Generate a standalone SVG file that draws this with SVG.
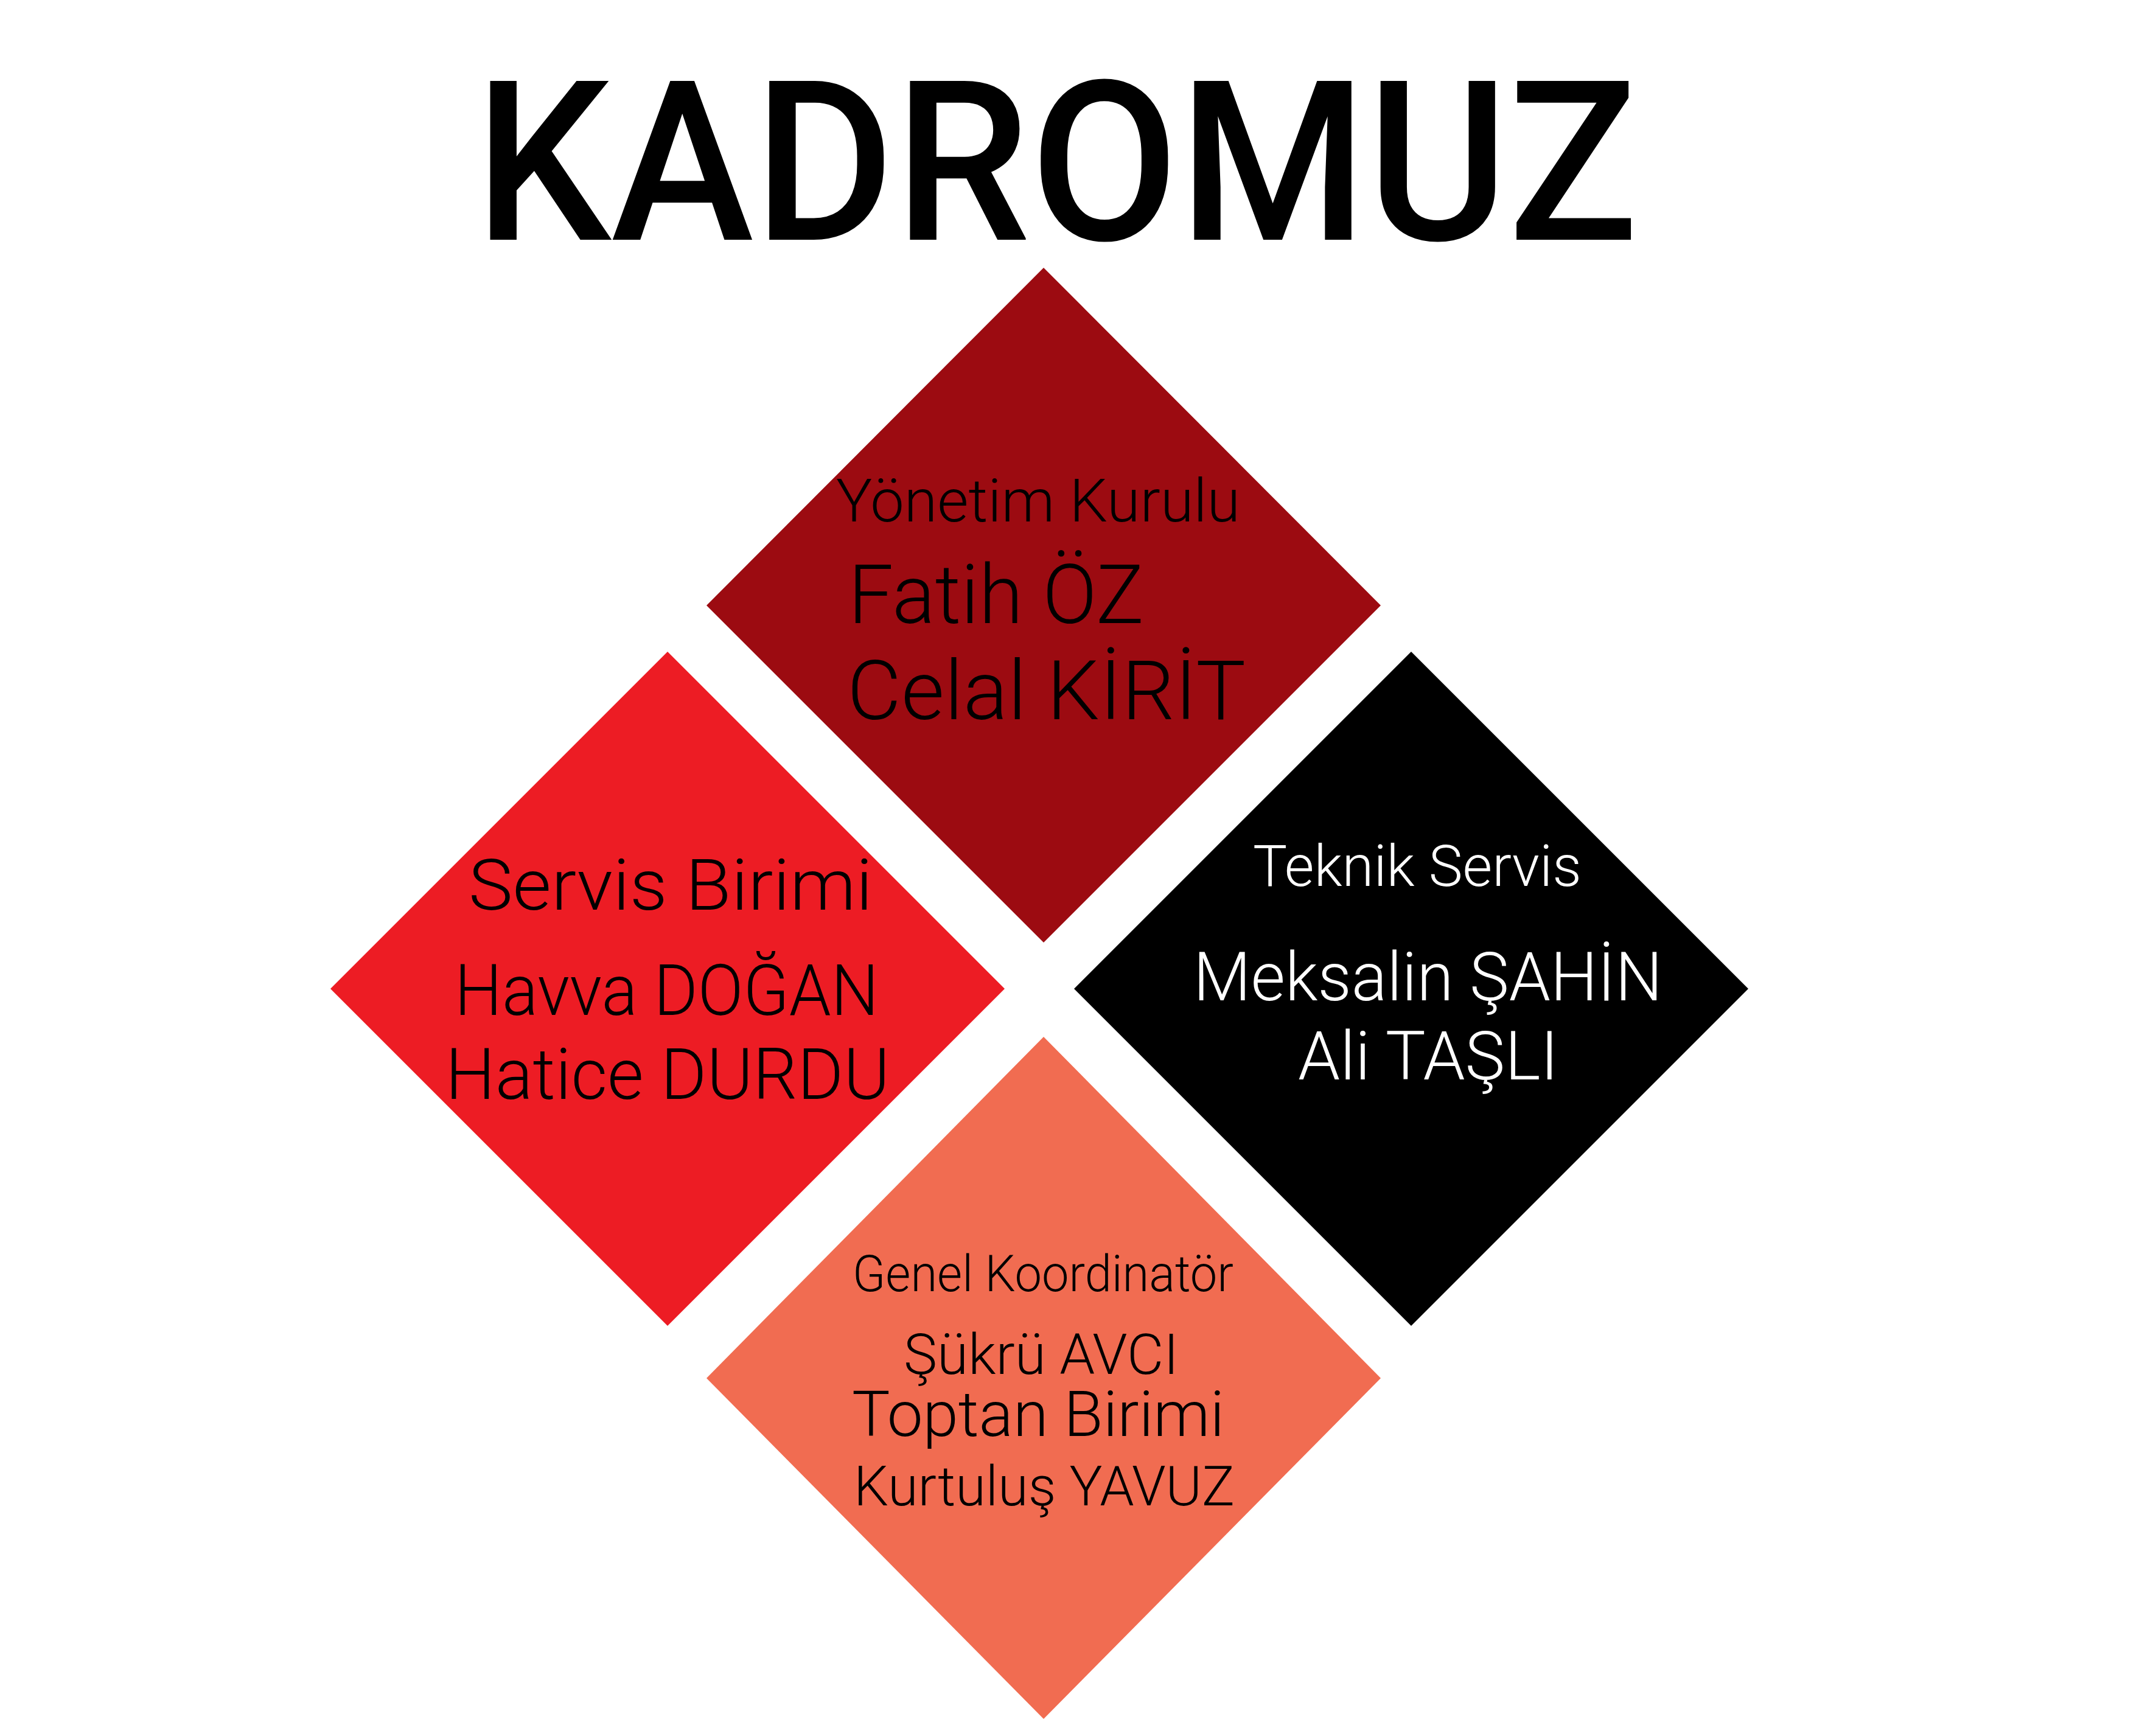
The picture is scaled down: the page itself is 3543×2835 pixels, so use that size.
<svg xmlns="http://www.w3.org/2000/svg" width="3543" height="2835" viewBox="0 0 3543 2835">
<style>
.t{font-family:Roboto,"DejaVu Sans","Liberation Sans",sans-serif;font-weight:300}
.title{font-family:Roboto,"DejaVu Sans","Liberation Sans",sans-serif;font-weight:500}
.dk{fill:#000000}
.wh{fill:#ffffff}
</style>
<rect x="0" y="0" width="3543" height="2835" fill="#ffffff"/>
<g id="title">
<text class="title dk" x="780" y="394" font-size="367" textLength="1912" lengthAdjust="spacingAndGlyphs">KADROMUZ</text>
</g>
<g id="connectors"></g>
<g id="yonetim">
<polygon points="1715,440 2269,995 1715,1549 1161,995" fill="#9C0B11"/>
<text class="t dk" x="1374" y="857" font-size="98" textLength="664" lengthAdjust="spacingAndGlyphs">Yönetim Kurulu</text>
<text class="t dk" x="1394" y="1024" font-size="136" textLength="486" lengthAdjust="spacingAndGlyphs">Fatih ÖZ</text>
<text class="t dk" x="1392" y="1182" font-size="135" textLength="655" lengthAdjust="spacingAndGlyphs">Celal KİRİT</text>
</g>
<g id="servis">
<polygon points="1097,1071 1651,1625 1097,2179 543,1625" fill="#ED1C24"/>
<text class="t dk" x="770" y="1495" font-size="116" textLength="664" lengthAdjust="spacingAndGlyphs">Servis Birimi</text>
<text class="t dk" x="747" y="1668" font-size="116" textLength="697" lengthAdjust="spacingAndGlyphs">Havva DOĞAN</text>
<text class="t dk" x="732" y="1806" font-size="116" textLength="730" lengthAdjust="spacingAndGlyphs">Hatice DURDU</text>
</g>
<g id="teknik">
<polygon points="2319,1071 2873,1625 2319,2179 1765,1625" fill="#000000"/>
<text class="t wh" x="2059" y="1456" font-size="94" textLength="540" lengthAdjust="spacingAndGlyphs">Teknik Servis</text>
<text class="t wh" x="1961" y="1644" font-size="112" textLength="771" lengthAdjust="spacingAndGlyphs">Meksalin ŞAHİN</text>
<text class="t wh" x="2133" y="1774" font-size="111" textLength="428" lengthAdjust="spacingAndGlyphs">Ali TAŞLI</text>
</g>
<g id="genel">
<polygon points="1715,1704 2269,2265 1715,2825 1161,2265" fill="#F16C51"/>
<text class="t dk" x="1401" y="2122" font-size="83" textLength="626" lengthAdjust="spacingAndGlyphs">Genel Koordinatör</text>
<text class="t dk" x="1485" y="2258" font-size="92" textLength="452" lengthAdjust="spacingAndGlyphs">Şükrü AVCI</text>
<text class="t dk" x="1400" y="2360" font-size="103" textLength="612" lengthAdjust="spacingAndGlyphs">Toptan Birimi</text>
<text class="t dk" x="1403" y="2474" font-size="90" textLength="626" lengthAdjust="spacingAndGlyphs">Kurtuluş YAVUZ</text>
</g>
</svg>
